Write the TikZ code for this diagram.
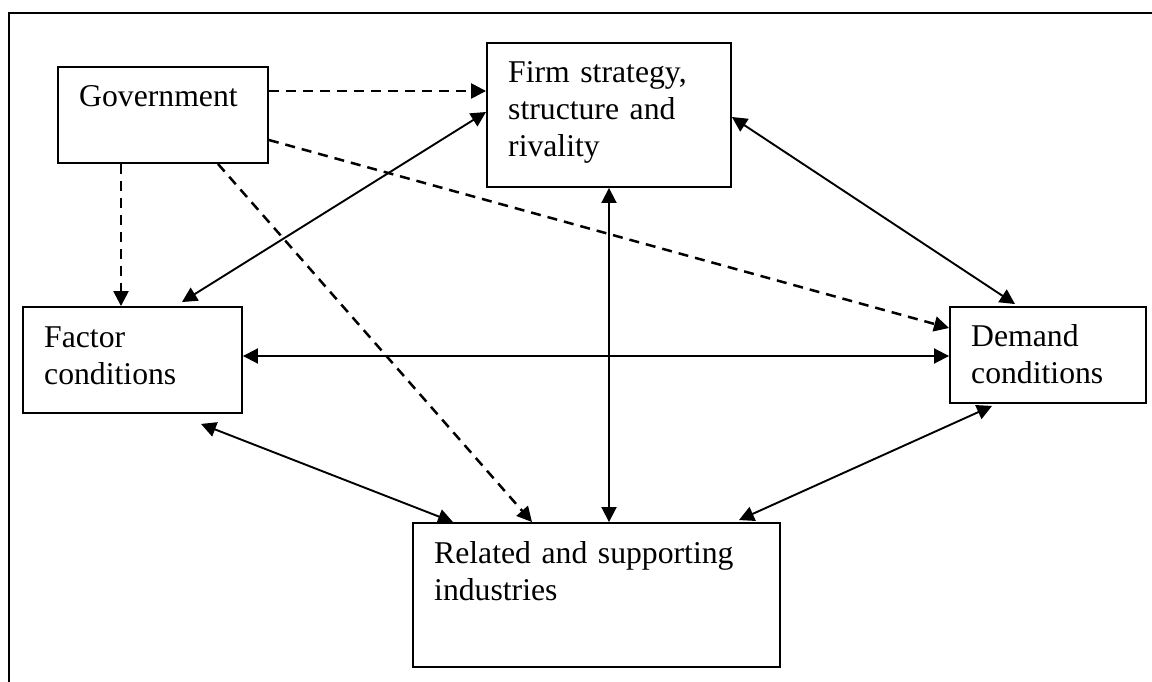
\documentclass[tikz,border=0pt]{standalone}
\usepackage{fontspec}
\setmainfont{Liberation Serif}
\usetikzlibrary{arrows.meta,fit}
\tikzset{
  box/.style={draw, line width=1.9pt, inner sep=0pt},
  lbl/.style={font=\fontsize{31.7}{37}\selectfont, inner sep=0pt, align=left, text width=340pt},
  tipA/.tip={Triangle[length=15pt,width=15pt]},
  twoway/.style={tipA-tipA, line width=1.9pt},
  dashline/.style={-tipA, line width=2.5pt, dash pattern=on 10pt off 7pt}
}
\begin{document}
\begin{tikzpicture}[x=1pt,y=-1pt]
\useasboundingbox (0,0) rectangle (1152,682);
% page frame
\draw[line width=2pt] (9,682) -- (9,13) -- (1152,13);
% boxes
\node[box, fit={(58,67) (268,163)}] (gov) {};
\node[box, fit={(487,43) (731,187)}] (firm) {};
\node[box, fit={(23,307) (242,413)}] (factor) {};
\node[box, fit={(950,307) (1146,403)}] (demand) {};
\node[box, fit={(413,523) (780,667)}] (related) {};
% texts
\node[lbl, anchor=base west] (govt) at (79,107) {Government};
\node[lbl, anchor=base west] (firmt) at (508,83) {Firm strategy,\\structure and\\rivality};
\node[lbl, anchor=base west] (factort) at (44,347) {Factor\\conditions};
\node[lbl, anchor=base west] (demandt) at (971,346) {Demand\\conditions};
\node[lbl, anchor=base west] (relatedt) at (434,563) {Related and supporting\\industries};
% dashed government influences
\draw[dashline] ([yshift=24pt]gov.east) -- ([yshift=24pt]firm.west);
\draw[dashline] ([yshift=-25pt]gov.east) -- ([yshift=27pt]demand.west);
\draw[dashline] ([xshift=-42pt]gov.south) -- ([xshift=-11.5pt]factor.north);
\draw[dashline] ([xshift=55pt]gov.south) -- ([xshift=-64.5pt]related.north);
% solid two-way links
\draw[twoway] ([yshift=3pt]firm.west) -- ([xshift=49.5pt,yshift=4pt]factor.north);
\draw[twoway] ([yshift=-2pt]firm.east) -- ([xshift=-33pt,yshift=2pt]demand.north);
\draw[twoway] (firm.south) -- ([xshift=12.5pt]related.north);
\draw[twoway] ([yshift=4pt]factor.east) -- ([yshift=-1pt]demand.west);
\draw[twoway] ([xshift=68.5pt,yshift=-10pt]factor.south) -- ([xshift=-143.5pt]related.north);
\draw[twoway] ([xshift=-56pt,yshift=-2pt]demand.south) -- ([xshift=142.5pt,yshift=2pt]related.north);
\end{tikzpicture}
\end{document}
